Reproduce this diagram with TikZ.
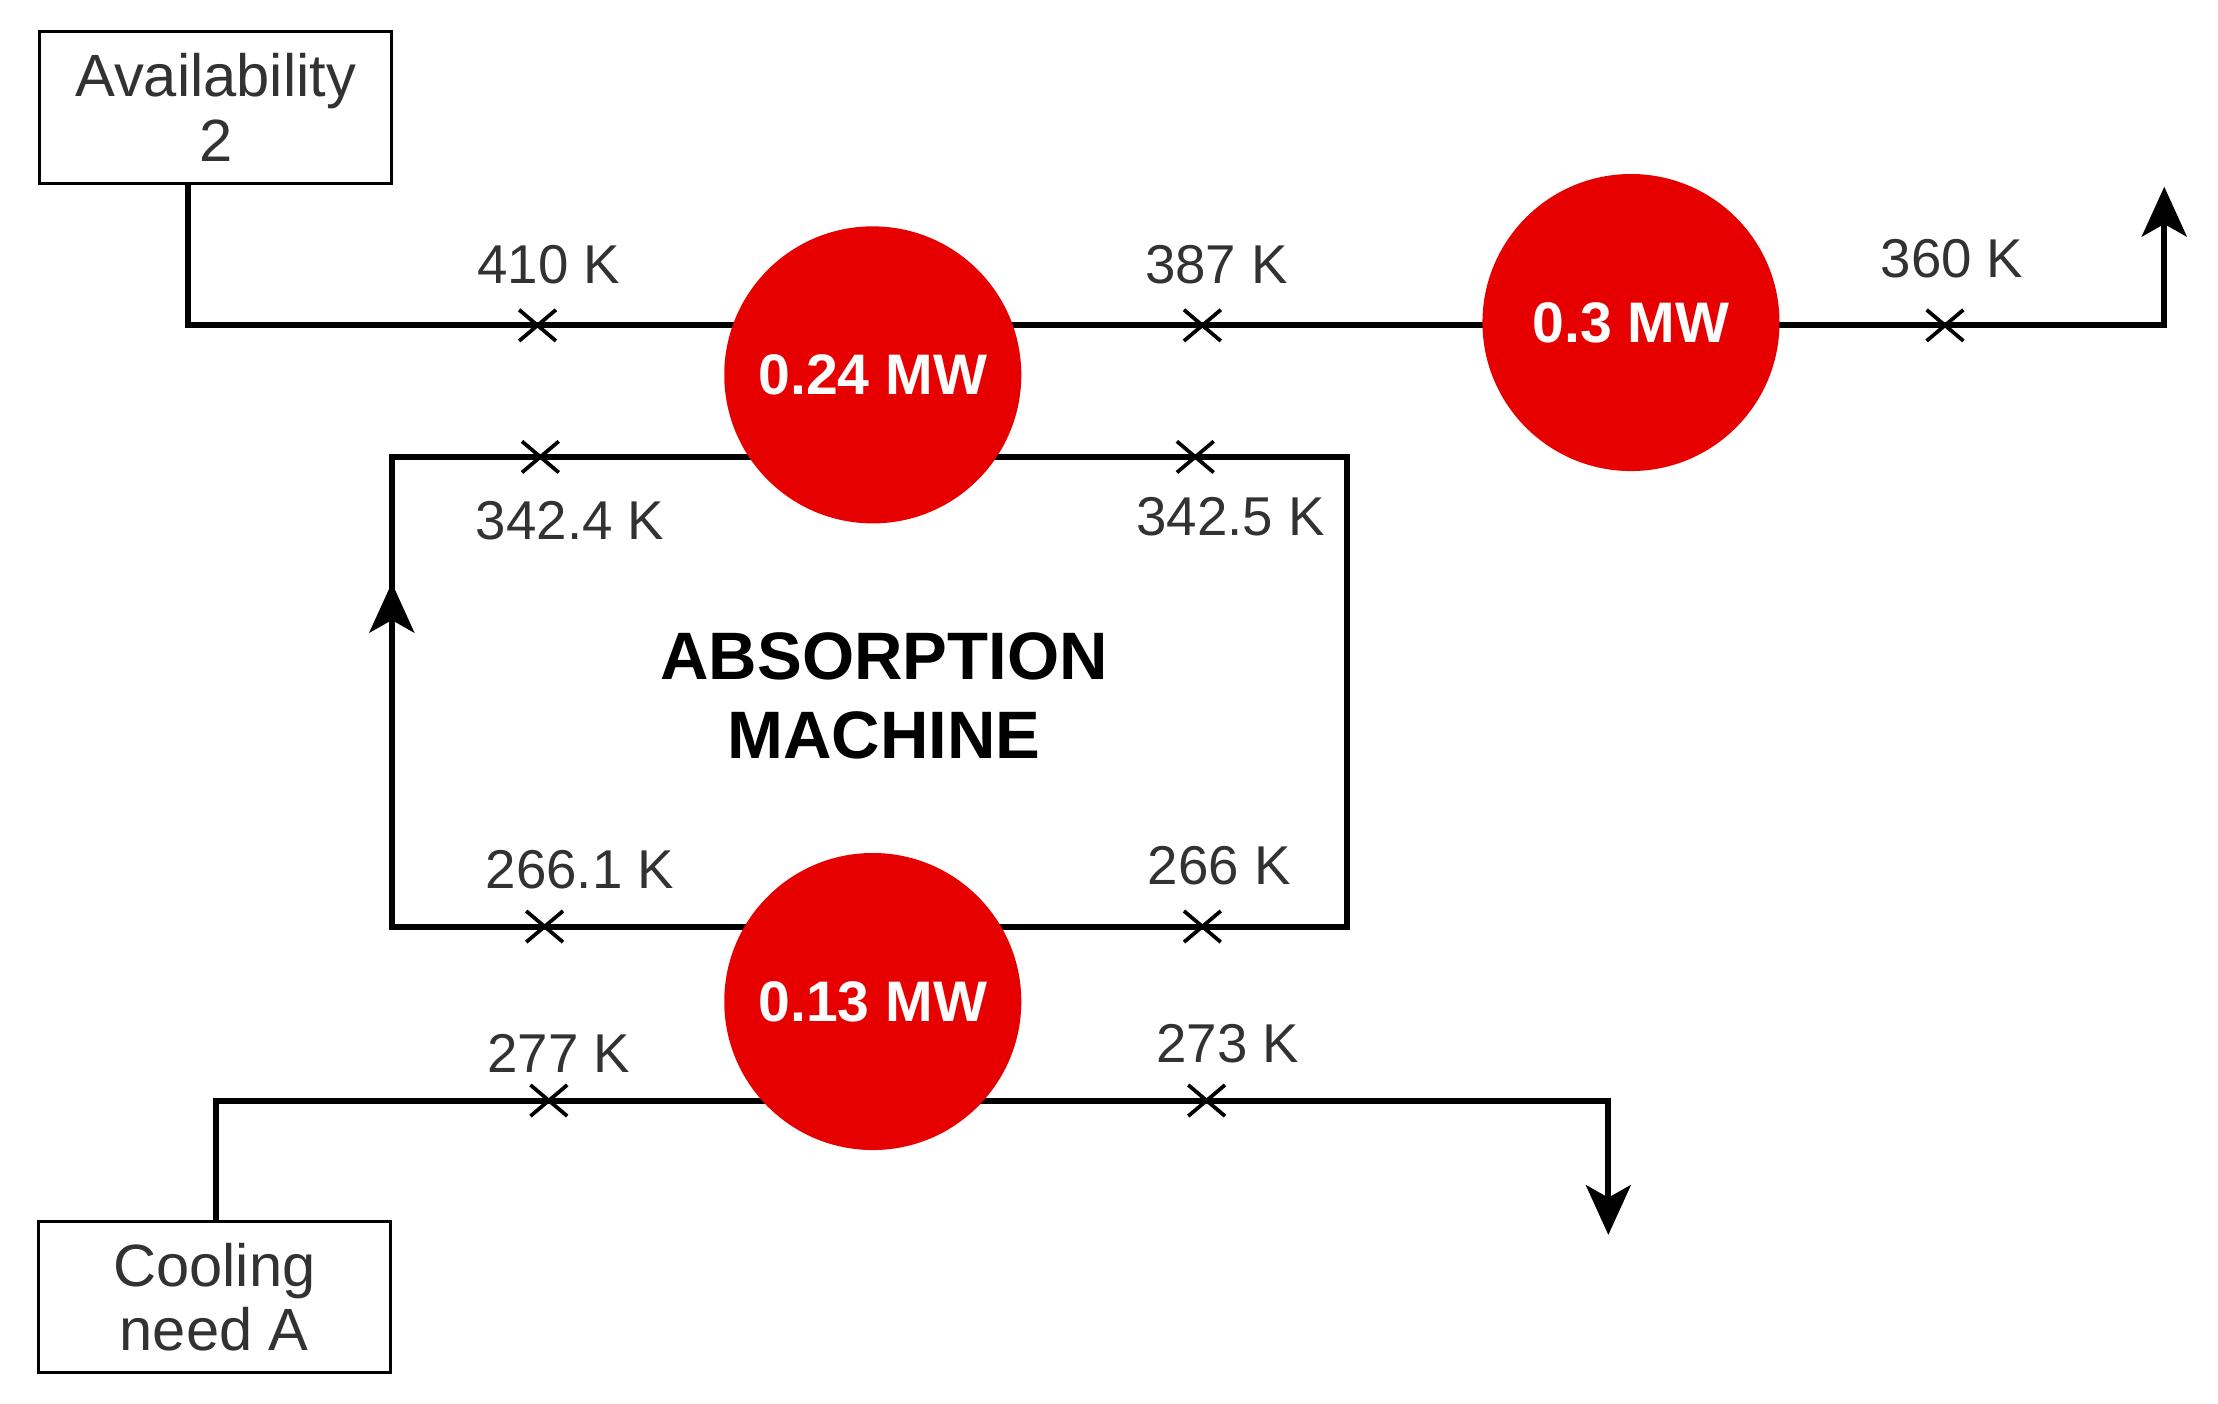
\documentclass[tikz,border=0pt]{standalone}
\usepackage{fontspec}
\setmainfont{Liberation Sans}
\usetikzlibrary{arrows.meta}
\definecolor{hot}{RGB}{230,0,0}
\definecolor{txt}{RGB}{50,50,50}
\begin{document}
\begin{tikzpicture}[x=0.02cm,y=-0.02cm,
  pipe/.style={line width=2.4pt},
  boxn/.style={draw,line width=1.2pt,minimum width=249*0.02cm,minimum height=107*0.02cm,inner sep=0pt,align=center,font=\fontsize{24}{26}\selectfont,text=txt},
  hx/.style={circle,fill=hot,minimum size=210*0.02cm,inner sep=0pt,text=white,font=\fontsize{23}{26}\selectfont\bfseries},
  lbl/.style={font=\fontsize{22}{24}\selectfont,text=txt,inner sep=0pt},
  tip/.style={-{Stealth[length=20pt,width=18pt,inset=5pt]}}]
\useasboundingbox (0,0) rectangle (1568,992);
\node[boxn] (av) at (152.5,76) {Availability\\2};
\node[boxn] (cn) at (151.5,917) {Cooling\\need A};
% top line
\coordinate (t1) at (133,230); \coordinate (t2) at (1530,230); \coordinate (t3) at (1530,132);
\draw[pipe,tip] (av.south -| t1) -- (t1) -- (t2) -- (t3);
% machine loop
\coordinate (m1) at (277,323); \coordinate (m2) at (952,655);
\draw[pipe] (m1) rectangle (m2);
\coordinate (ma) at (277,500); \coordinate (mb) at (277,412);
\draw[pipe,tip] (ma) -- (mb);
\node[font=\fontsize{27}{32}\selectfont\bfseries,align=center] (abs) at (625,492) {ABSORPTION\\MACHINE};
% bottom line
\coordinate (b1) at (153,778); \coordinate (b2) at (1137,778); \coordinate (b3) at (1137,873);
\draw[pipe,tip] (cn.north -| b1) -- (b1) -- (b2) -- (b3);
% crosses
\foreach \x/\y in {380/230,850/230,1375/230,382/323,845/323,385/655,850/655,388/778,853/778}
  \draw[line width=1.5pt] (\x-13,\y-11) -- (\x+13,\y+11) (\x-13,\y+11) -- (\x+13,\y-11);
% labels
\node[lbl] (l1) at (388,187) {410 K};
\node[lbl] (l2) at (860,187) {387 K};
\node[lbl] (l3) at (1380,183) {360 K};
\node[lbl] (l4) at (403,368) {342.4 K};
\node[lbl] (l5) at (870,365) {342.5 K};
\node[lbl] (l6) at (410,615) {266.1 K};
\node[lbl] (l7) at (862,612) {266 K};
\node[lbl] (l8) at (395,745) {277 K};
\node[lbl] (l9) at (868,738) {273 K};
% heat exchangers
\node[hx] (h1) at (617,265) {0.24 MW};
\node[hx] (h2) at (1153,228) {0.3 MW};
\node[hx] (h3) at (617,708) {0.13 MW};
\end{tikzpicture}
\end{document}
